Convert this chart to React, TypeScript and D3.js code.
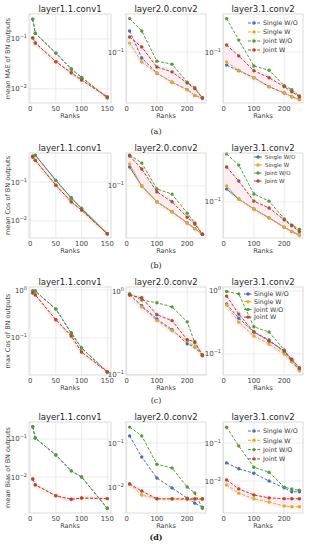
import React from 'react'
import * as d3 from 'd3'

const W = 311
const H = 550

const layerNames = ['layer1.1.conv1', 'layer2.0.conv2', 'layer3.1.conv2']
const seriesNames = ['Single W/O', 'Single W', 'Joint W/O', 'Joint W']
const ranksFirst = [5, 10, 50, 80, 100, 150]
const ranksDeep = [10, 50, 100, 150, 200, 225, 250]
const ticksFirst = [0, 50, 100, 150]
const ticksDeep = [0, 100, 200]

// (a) mean MAE
const maeSingleWO = [
  [0.25, 0.13, 0.052, 0.025, 0.017, 0.0066],
  [0.2, 0.082, 0.05, 0.037, 0.029, 0.024, 0.022],
  [0.065, 0.054, 0.043, 0.032, 0.026, 0.023, 0.021],
]
const maeSingleW = [
  [0.105, 0.083, 0.035, 0.021, 0.015, 0.0069],
  [0.134, 0.072, 0.05, 0.037, 0.029, 0.024, 0.022],
  [0.072, 0.055, 0.043, 0.032, 0.026, 0.023, 0.021],
]
const maeJointWO = [
  [0.25, 0.13, 0.052, 0.025, 0.017, 0.0066],
  [0.3, 0.2, 0.074, 0.067, 0.037, 0.031, 0.022],
  [0.3, 0.148, 0.063, 0.055, 0.033, 0.029, 0.0235],
]
const maeJointW = [
  [0.105, 0.083, 0.035, 0.021, 0.015, 0.0069],
  [0.164, 0.118, 0.061, 0.052, 0.036, 0.03, 0.022],
  [0.126, 0.088, 0.054, 0.043, 0.032, 0.027, 0.023],
]
const maeLimits = [[0.0052, 0.316], [0.0187, 0.349], [0.0187, 0.349]]

// (b) mean Cos
const cosSingleWO = [
  [0.46, 0.49, 0.11, 0.039, 0.021, 0.0047],
  [0.196, 0.1, 0.057, 0.04, 0.027, 0.022, 0.018],
  [0.158, 0.111, 0.078, 0.057, 0.041, 0.035, 0.031],
]
const cosSingleW = [
  [0.44, 0.36, 0.083, 0.031, 0.019, 0.0047],
  [0.218, 0.1, 0.057, 0.04, 0.027, 0.022, 0.018],
  [0.176, 0.111, 0.078, 0.057, 0.041, 0.035, 0.031],
]
const cosJointWO = [
  [0.46, 0.49, 0.11, 0.039, 0.021, 0.0047],
  [0.3, 0.226, 0.09, 0.075, 0.038, 0.027, 0.018],
  [0.55, 0.37, 0.133, 0.103, 0.055, 0.044, 0.038],
]
const cosJointW = [
  [0.44, 0.36, 0.083, 0.031, 0.019, 0.0047],
  [0.29, 0.183, 0.081, 0.057, 0.033, 0.026, 0.018],
  [0.345, 0.21, 0.103, 0.081, 0.053, 0.043, 0.035],
]
const cosLimits = [[0.00366, 0.555], [0.0158, 0.322], [0.0279, 0.568]]

// (c) max Cos
const maxSingleWO = [
  [0.95, 0.95, 0.4, 0.127, 0.062, 0.0196],
  [0.93, 0.68, 0.47, 0.35, 0.236, 0.215, 0.17],
  [0.62, 0.37, 0.223, 0.167, 0.108, 0.077, 0.056],
]
const maxSingleW = [
  [0.87, 0.79, 0.24, 0.11, 0.051, 0.0196],
  [0.92, 0.66, 0.45, 0.34, 0.257, 0.217, 0.17],
  [0.6, 0.32, 0.193, 0.144, 0.1, 0.075, 0.054],
]
const maxJointWO = [
  [0.95, 0.95, 0.4, 0.127, 0.062, 0.0196],
  [0.95, 0.8, 0.74, 0.66, 0.435, 0.243, 0.174],
  [0.98, 0.9, 0.27, 0.223, 0.116, 0.08, 0.06],
]
const maxJointW = [
  [0.87, 0.79, 0.24, 0.11, 0.051, 0.0196],
  [0.92, 0.85, 0.53, 0.45, 0.264, 0.25, 0.17],
  [0.83, 0.43, 0.223, 0.16, 0.112, 0.083, 0.06],
]
const maxLimits = [[0.0169, 1.155], [0.0988, 1.149], [0.0464, 1.157]]

// (d) mean Bias
const biasSingleWO = [
  [0.21, 0.106, 0.038, 0.0145, 0.01, 0.0015],
  [0.145, 0.048, 0.016, 0.0095, 0.0056, 0.0043, 0.0035],
  [0.03, 0.021, 0.016, 0.01, 0.0066, 0.0052, 0.0052],
]
const biasSingleW = [
  [0.0089, 0.0062, 0.0032, 0.0026, 0.0028, 0.0027],
  [0.0117, 0.0066, 0.0054, 0.0053, 0.0052, 0.0052, 0.0052],
  [0.0079, 0.0048, 0.0034, 0.0028, 0.0022, 0.0021, 0.0021],
]
const biasJointWO = [
  [0.21, 0.106, 0.038, 0.0145, 0.01, 0.0015],
  [0.23, 0.145, 0.033, 0.027, 0.01, 0.0073, 0.0033],
  [0.26, 0.084, 0.023, 0.017, 0.0069, 0.0062, 0.0057],
]
const biasJointW = [
  [0.0089, 0.0062, 0.0032, 0.0026, 0.0028, 0.0027],
  [0.0117, 0.0081, 0.0054, 0.0054, 0.0054, 0.0054, 0.0054],
  [0.0107, 0.0062, 0.0043, 0.0036, 0.0034, 0.0034, 0.0034],
]
const biasLimits = [[0.00113, 0.28], [0.00257, 0.3], [0.00144, 0.357]]

const colors = ['#4a6db3', '#dcae2a', '#559b38', '#b04836']
const font = 'DejaVu Sans, sans-serif'
const cols: [number, number][] = [[29, 111], [126, 206], [223, 303]]

const rowSpecs = [
  {ylabel: 'mean MAE of BN outputs', tag: '(a)', top: 14, bottom: 103, tagY: 134,
   series: [maeSingleWO, maeSingleW, maeJointWO, maeJointW], limits: maeLimits,
   legend: {y: 23, dy: 9, lx: 248, tx: 263, fs: 6.3, len: 12}, solidSingle: false},
  {ylabel: 'mean Cos of BN outputs', tag: '(b)', top: 153, bottom: 238, tagY: 268,
   series: [cosSingleWO, cosSingleW, cosJointWO, cosJointW], limits: cosLimits,
   legend: {y: 157, dy: 8, lx: 254, tx: 265, fs: 5.5, len: 8}, solidSingle: true},
  {ylabel: 'max Cos of BN outputs', tag: '(c)', top: 287, bottom: 375, tagY: 403,
   series: [maxSingleWO, maxSingleW, maxJointWO, maxJointW], limits: maxLimits,
   legend: {y: 294, dy: 7.7, lx: 244, tx: 254, fs: 6.3, len: 8}, solidSingle: false},
  {ylabel: 'mean Bias of BN outputs', tag: '(d)', top: 422, bottom: 513, tagY: 540,
   series: [biasSingleWO, biasSingleW, biasJointWO, biasJointW], limits: biasLimits,
   legend: {y: 431, dy: 9.3, lx: 248, tx: 263, fs: 6.3, len: 12}, solidSingle: false},
]

const Panel = ({row, ci}: {row: any; ci: number}) => {
  const [x0, x1] = cols[ci]
  const ranks = ci === 0 ? ranksFirst : ranksDeep
  const xt = ci === 0 ? ticksFirst : ticksDeep
  const xDom = ci === 0 ? [-2.25, 157.25] : [-2, 262]
  const x = d3.scaleLinear().domain(xDom).range([x0, x1])
  const y = d3.scaleLog().domain(row.limits[ci]).range([row.bottom, row.top])
  const decades = y.ticks().filter((t: number) => Math.abs(Math.log10(t) - Math.round(Math.log10(t))) < 1e-9)
  const line = d3.line<number>().x((_, i) => x(ranks[i])).y(d => y(d))
  const lo: number[] = row.series[1][ci]
  const hi: number[] = row.series[3][ci]
  const band = d3
    .area<number>()
    .x(i => x(ranks[i]))
    .y0(i => y(Math.min(lo[i], hi[i])))
    .y1(i => y(Math.max(lo[i], hi[i])))
  const idx = ranks.map((_, i) => i)
  const cx = (x0 + x1) / 2
  return (
    <g>
      <rect x={x0} y={row.top} width={x1 - x0} height={row.bottom - row.top} fill="#fff" />
      {xt.map(t => (
        <line key={'gx' + t} x1={x(t)} x2={x(t)} y1={row.top} y2={row.bottom} stroke="#e6e6e6" strokeWidth={0.8} />
      ))}
      {decades.map((t: number) => (
        <line key={'gy' + t} x1={x0} x2={x1} y1={y(t)} y2={y(t)} stroke="#e6e6e6" strokeWidth={0.8} />
      ))}
      <path d={band(idx) || ''} fill="#fce6ee" stroke="#fce6ee" strokeWidth={5} strokeLinejoin="round" opacity={0.7} />
      {row.series.map((s: number[][], si: number) => (
        <g key={si}>
          <path
            d={line(s[ci]) || ''}
            fill="none"
            stroke={colors[si]}
            strokeWidth={1}
            strokeDasharray={row.solidSingle && si < 2 ? undefined : '3,1.6'}
          />
          {s[ci].map((v, i) => (
            <circle key={i} cx={x(ranks[i])} cy={y(v)} r={1.7} fill={colors[si]} />
          ))}
        </g>
      ))}
      <rect x={x0} y={row.top} width={x1 - x0} height={row.bottom - row.top} fill="none" stroke="#d2d2d2" strokeWidth={0.8} />
      {xt.map(t => (
        <text key={'tx' + t} x={x(t)} y={row.bottom + 7.8} fontSize={6.8} textAnchor="middle" fill="#444" fontFamily={font}>
          {t}
        </text>
      ))}
      {decades.map((t: number) => (
        <text key={'ty' + t} x={x0 - 2} y={y(t) + 2.5} fontSize={7} textAnchor="end" fill="#444" fontFamily={font}>
          10
          <tspan dy={-3} fontSize={5}>
            {Math.round(Math.log10(t)) === 0 ? '0' : '\u2212' + Math.abs(Math.round(Math.log10(t)))}
          </tspan>
        </text>
      ))}
      <text x={cx} y={row.top - 1.8} fontSize={8.5} textAnchor="middle" fill="#262626" fontFamily={font}>
        {layerNames[ci]}
      </text>
      <text x={cx} y={row.bottom + 15} fontSize={6.5} textAnchor="middle" fill="#444" fontFamily={font}>
        Ranks
      </text>
    </g>
  )
}

const Legend = ({row}: {row: any}) => {
  const L = row.legend
  return (
    <g>
      {seriesNames.map((n, i) => {
        const yy = L.y + i * L.dy
        return (
          <g key={n}>
            <line
              x1={L.lx}
              x2={L.lx + L.len}
              y1={yy}
              y2={yy}
              stroke={colors[i]}
              strokeWidth={1}
              strokeDasharray={row.solidSingle && i < 2 ? undefined : '3,1.6'}
            />
            <circle cx={L.lx + L.len / 2} cy={yy} r={1.7} fill={colors[i]} />
            <text x={L.tx} y={yy + L.fs * 0.36} fontSize={L.fs} fill="#333" fontFamily={font}>
              {n}
            </text>
          </g>
        )
      })}
    </g>
  )
}

export default function App() {
  return (
    <svg
      width={W}
      height={H}
      style={{position: 'absolute', left: 0, top: 0, background: '#fff'}}
      viewBox={`0 0 ${W} ${H}`}
    >
      <rect width={W} height={H} fill="#fff" />
      {rowSpecs.map(row => (
        <g key={row.tag}>
          {[0, 1, 2].map(ci => (
            <Panel key={ci} row={row} ci={ci} />
          ))}
          <Legend row={row} />
          <text
            transform={`translate(10,${(row.top + row.bottom) / 2}) rotate(-90)`}
            fontSize={6.5}
            textAnchor="middle"
            fill="#444"
            fontFamily={font}
          >
            {row.ylabel}
          </text>
          <text
            x={156}
            y={row.tagY}
            fontSize={8}
            textAnchor="middle"
            fill="#222"
            fontFamily="DejaVu Serif, serif"
            fontWeight={row.tag === '(d)' ? 'bold' : 'normal'}
          >
            {row.tag}
          </text>
        </g>
      ))}
    </svg>
  )
}
